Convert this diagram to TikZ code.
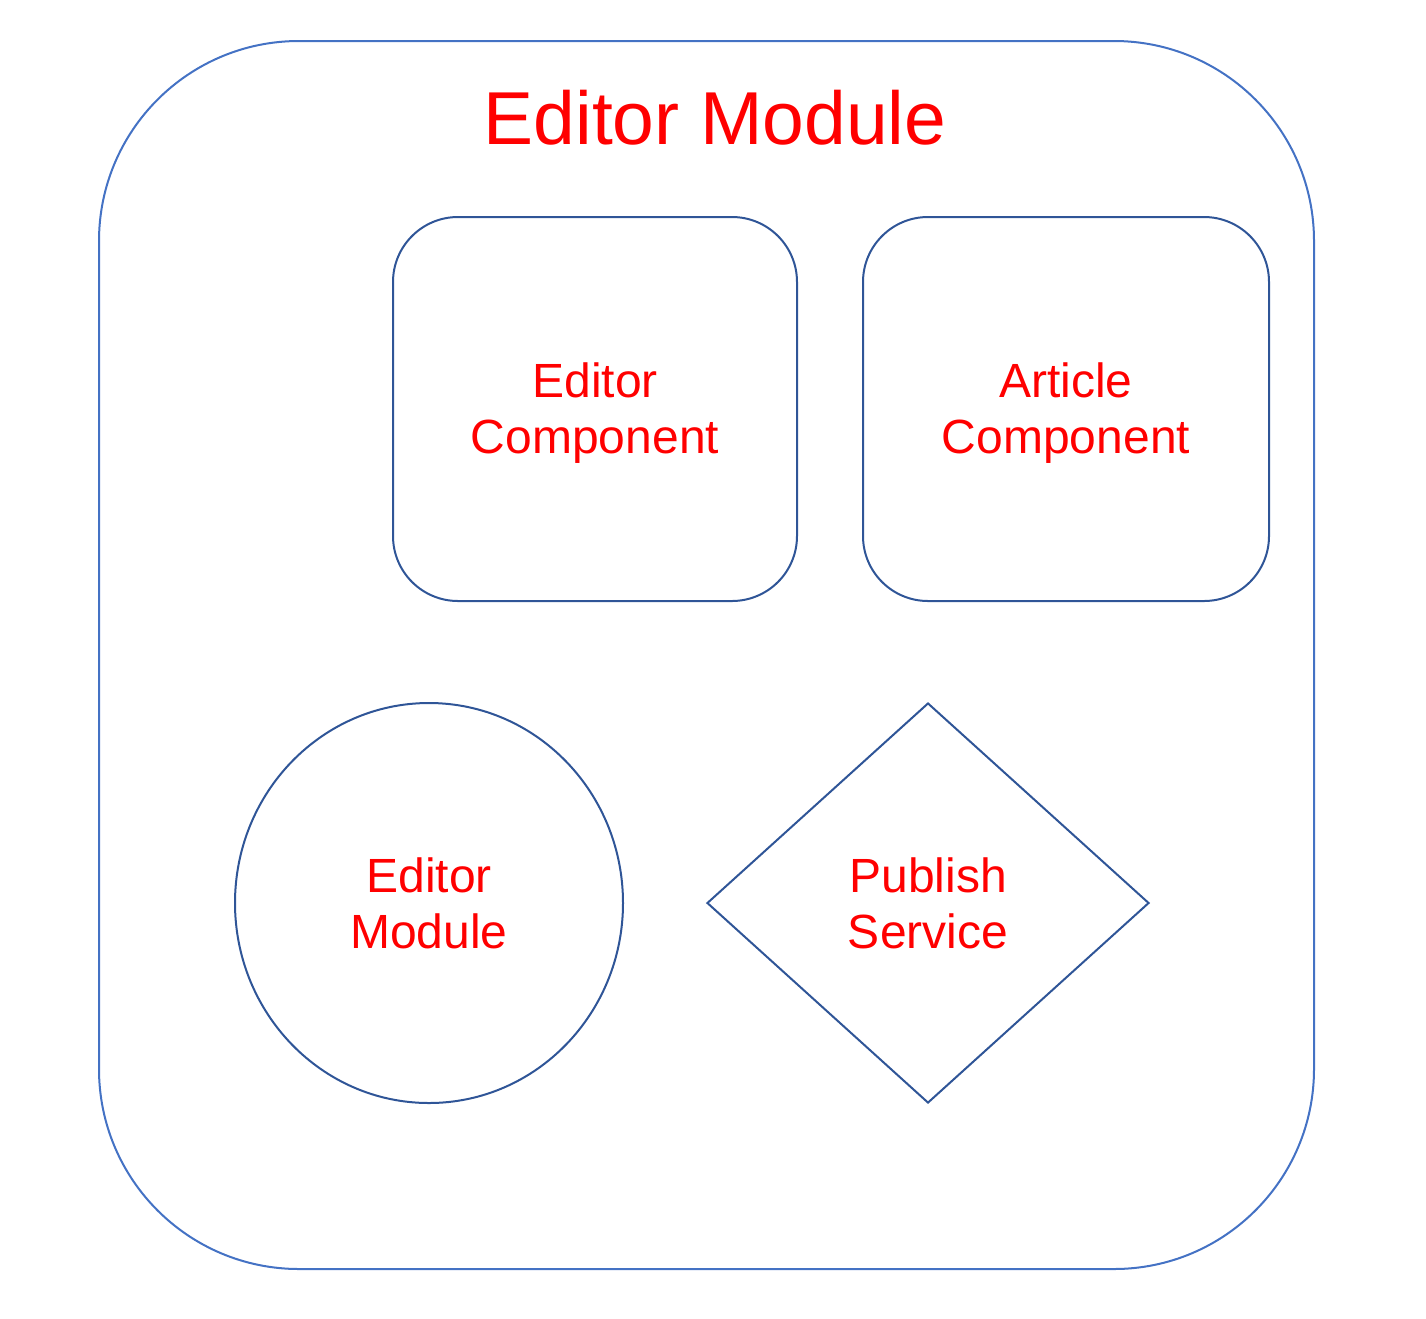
\documentclass[tikz,border=0pt]{standalone}
\usepackage{fontspec}
\setmainfont{Liberation Sans}
\usetikzlibrary{shapes.geometric}
\definecolor{outerblue}{HTML}{4472C4}
\definecolor{innerblue}{HTML}{2F5597}
\definecolor{labelred}{HTML}{FF0000}
\begin{document}
\begin{tikzpicture}[x=1pt,y=-1pt,
  caption/.style={text=labelred, align=center, font=\fontsize{48}{56}\selectfont},
  part/.style={draw=innerblue, line width=2pt, inner sep=0pt},
  compbox/.style={part, rectangle, rounded corners=65pt, minimum width=404pt, minimum height=384pt}]
  \useasboundingbox (0,0) rectangle (1426,1318);
  % module container
  \node[draw=outerblue, line width=2pt, rectangle, rounded corners=200pt,
        minimum width=1215pt, minimum height=1228pt, inner sep=0pt] (module) at (706.5,655) {};
  \node[text=labelred, font=\fontsize{75}{80}\selectfont] (title) at (715,118) {Editor Module};
  % components (the descender of "Component" deepens the text box and
  % pushes the lines up when centred, so move them down a little)
  \node[compbox] (editorcomp) at (595,409) {};
  \node[caption, yshift=-4pt] (editorcomptext) at (editorcomp.center) {Editor\\Component};
  \node[compbox, minimum width=406pt] (articlecomp) at (1066,409) {};
  \node[caption, yshift=-4pt] (articlecomptext) at (articlecomp.center) {Article\\Component};
  % module and service
  \node[part, ellipse, minimum width=388pt, minimum height=400pt] (editormod) at (429,903) {};
  \node[caption] (editormodtext) at (editormod.center) {Editor\\Module};
  \node[part, diamond, minimum width=442pt, minimum height=400pt] (publish) at (928,903) {};
  \node[caption] (publishtext) at (publish.center) {Publish\\Service};
\end{tikzpicture}
\end{document}
